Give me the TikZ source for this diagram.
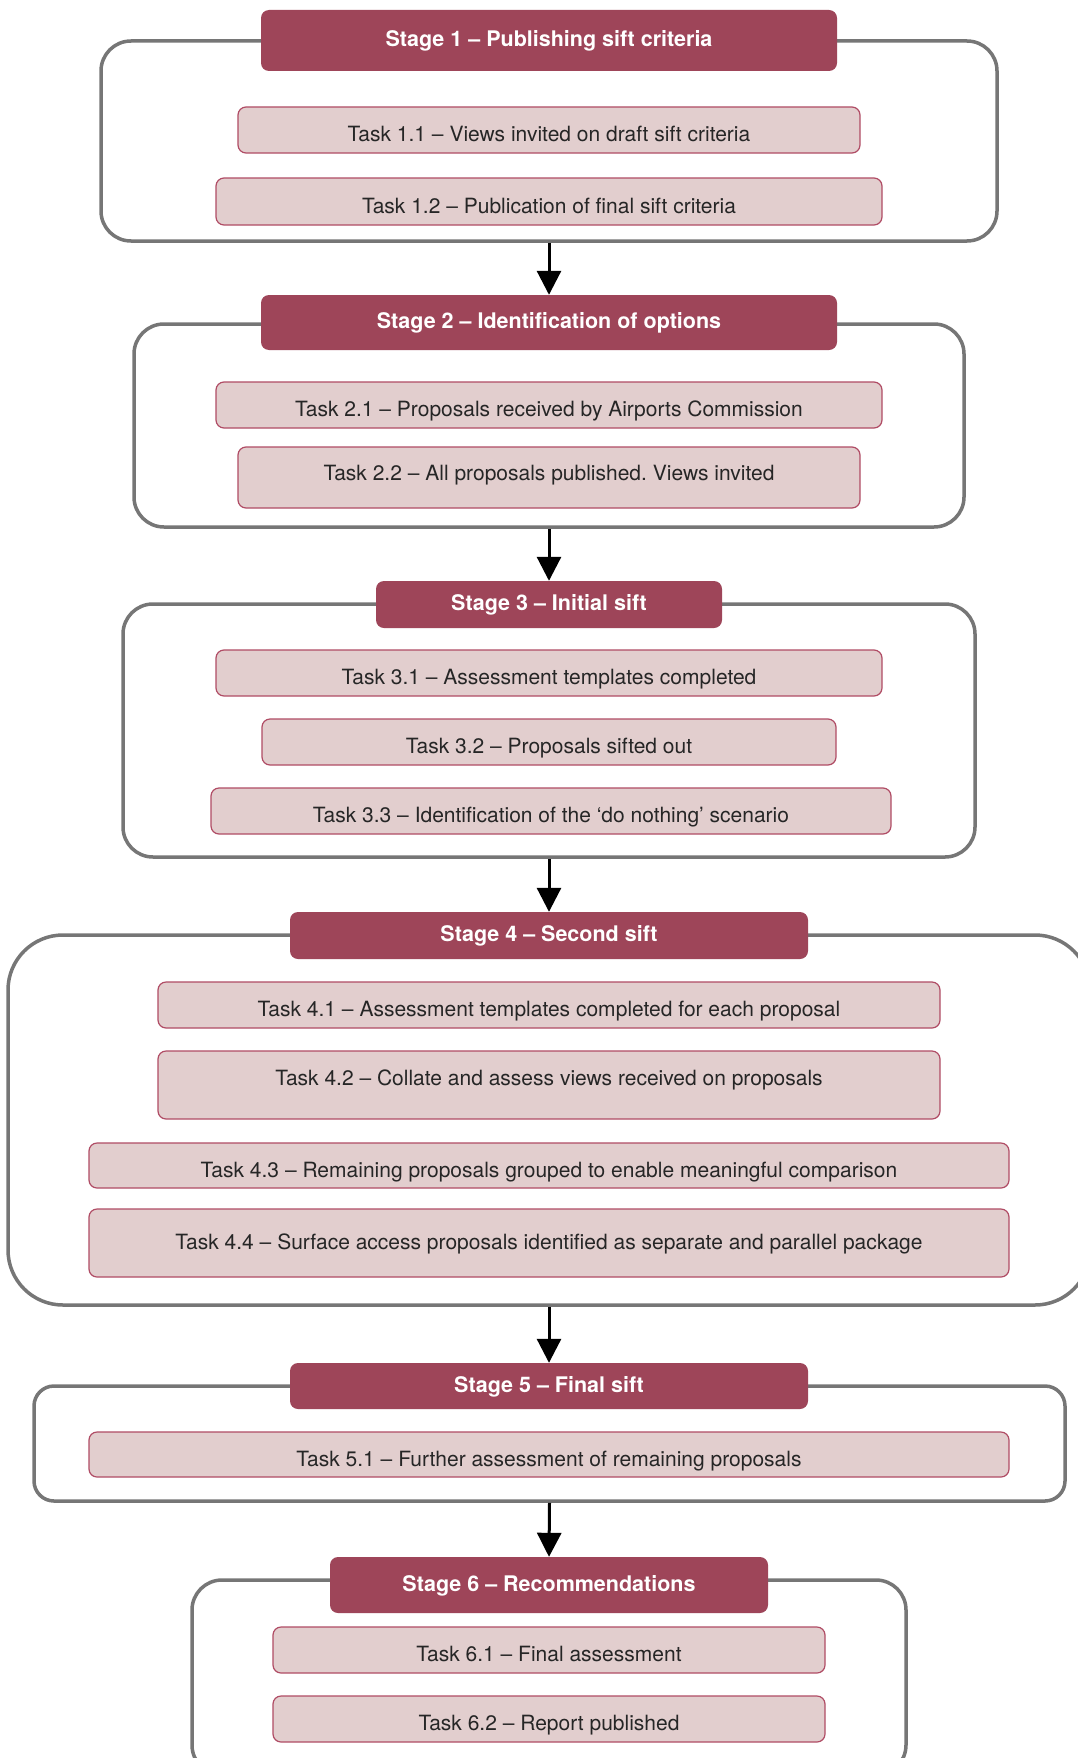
\documentclass[tikz,border=0pt]{standalone}
\usepackage{fontspec}
\setmainfont{TeX Gyre Heros}
\usepackage{tikz}
\usetikzlibrary{arrows.meta}
\frenchspacing
\definecolor{stagered}{HTML}{9E4559}
\definecolor{taskpink}{HTML}{E2CECE}
\definecolor{taskline}{HTML}{B04C65}
\definecolor{framegrey}{HTML}{767676}
\tikzstyle{frame}     = [draw=framegrey, line width=3.5pt, fill=white, rounded corners=30pt]
\tikzstyle{stagehead} = [fill=stagered, rounded corners=8pt, text=white, text height=12.4pt, text depth=0pt, font=\fontsize{21.5}{25}\selectfont\bfseries]
\tikzstyle{task}      = [draw=taskline, line width=1.2pt, fill=taskpink, rounded corners=8pt, text=black!85, text height=23pt, text depth=0pt, font=\fontsize{21}{25}\selectfont]
\tikzstyle{arrow}     = [line width=3pt,-{Triangle[width=24pt,length=24pt]}]

\begin{document}
\begin{tikzpicture}[x=1pt,y=-1pt]
        \useasboundingbox (0,0) rectangle (1077,1758);

        % stage 1
        \node[frame, minimum width=896, minimum height=200] (frame1) at (549,141) {};
        \node[stagehead, minimum width=576, minimum height=61] (head1) at (549,40.5) {Stage 1 – Publishing sift criteria};
        \node[task, minimum width=622, minimum height=46] (task11) at (549,130) {Task 1.1 – Views invited on draft sift criteria};
        \node[task, minimum width=666, minimum height=47] (task12) at (549,201.5) {Task 1.2 – Publication of final sift criteria};

        % stage 2
        \node[frame, minimum width=830, minimum height=203] (frame2) at (549,425.5) {};
        \node[stagehead, minimum width=576, minimum height=55] (head2) at (549,322.5) {Stage 2 – Identification of options};
        \node[task, minimum width=666, minimum height=46] (task21) at (549,405) {Task 2.1 – Proposals received by Airports Commission};
        \node[task, minimum width=622, minimum height=61, text height=18pt, text depth=12pt] (task22) at (549,477.5) {Task 2.2 – All proposals published. Views invited};

        % stage 3
        \node[frame, minimum width=852, minimum height=253] (frame3) at (549,730.5) {};
        \node[stagehead, minimum width=346, minimum height=47] (head3) at (549,604.5) {Stage 3 – Initial sift};
        \node[task, minimum width=666, minimum height=46] (task31) at (549,673) {Task 3.1 – Assessment templates completed};
        \node[task, minimum width=574, minimum height=46] (task32) at (549,742) {Task 3.2 – Proposals sifted out};
        \node[task, minimum width=680, minimum height=46] (task33) at (551,811) {Task 3.3 – Identification of the ‘do nothing’ scenario};

        % stage 4
        \node[frame, rounded corners=55pt, minimum width=1082, minimum height=370] (frame4) at (549,1120) {};
        \node[stagehead, minimum width=518, minimum height=47] (head4) at (549,935.5) {Stage 4 – Second sift};
        \node[task, minimum width=782, minimum height=46] (task41) at (549,1005) {Task 4.1 – Assessment templates completed for each proposal};
        \node[task, minimum width=782, minimum height=68, text height=16pt, text depth=16pt] (task42) at (549,1085) {Task 4.2 – Collate and assess views received on proposals};
        \node[task, minimum width=920, minimum height=45] (task43) at (549,1165.5) {Task 4.3 – Remaining proposals grouped to enable meaningful comparison};
        \node[task, minimum width=920, minimum height=68, text height=20pt, text depth=7pt] (task44) at (549,1243) {Task 4.4 – Surface access proposals identified as separate and parallel package};

        % stage 5
        \node[frame, rounded corners=20pt, minimum width=1031, minimum height=115] (frame5) at (549.5,1443.5) {};
        \node[stagehead, minimum width=518, minimum height=46] (head5) at (549,1386) {Stage 5 – Final sift};
        \node[task, minimum width=920, minimum height=45] (task51) at (549,1454.5) {Task 5.1 – Further assessment of remaining proposals};

        % stage 6
        \node[frame, minimum width=714, minimum height=195] (frame6) at (549,1677.5) {};
        \node[stagehead, minimum width=438, minimum height=56] (head6) at (549,1585) {Stage 6 – Recommendations};
        \node[task, minimum width=552, minimum height=46] (task61) at (549,1650) {Task 6.1 – Final assessment};
        \node[task, minimum width=552, minimum height=46] (task62) at (549,1719) {Task 6.2 – Report published};

        \draw[arrow] (frame1.south) -- (head2.north);
        \draw[arrow] (frame2.south) -- (head3.north);
        \draw[arrow] (frame3.south) -- (head4.north);
        \draw[arrow] (frame4.south) -- (head5.north);
        \draw[arrow] (frame5.south) -- (head6.north);
    \end{tikzpicture}
\end{document}
